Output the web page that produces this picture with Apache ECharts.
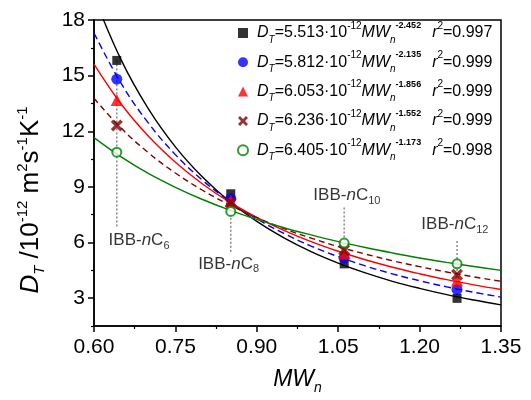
<!DOCTYPE html>
<html>
<head>
<meta charset="utf-8">
<script src="https://cdn.jsdelivr.net/npm/echarts@6/dist/echarts.min.js"></script>
<style>
  html, body { margin: 0; padding: 0; background: #fff; }
  #chart { width: 531px; height: 400px; }
</style>
</head>
<body>
<div id="chart"></div>
<script>
// Thermodiffusion coefficient vs. number-average molar mass
const FONT = '"Liberation Sans", Arial, sans-serif';

// measured points: x positions of the four mixtures
const mwn = [0.642, 0.852, 1.061, 1.269];
const dtBlack = [15.82, 8.63, 4.85, 2.99];
const dtBlue  = [14.81, 8.37, 5.17, 3.47];
const dtRed   = [13.69, 8.26, 5.44, 3.95];
const dtBrown = [12.31, 8.15, 5.60, 4.27];
const dtGreen = [10.87, 7.68, 5.97, 4.85];

// power-law fit curves sampled along MWn
const fitX = [0.60, 0.65, 0.70, 0.75, 0.80, 0.85, 0.90, 0.95, 1.00, 1.05, 1.10, 1.15, 1.20, 1.25, 1.30, 1.35];
const fitBlack = [19.29, 15.85, 13.22, 11.16, 9.53, 8.21, 7.14, 6.25, 5.51, 4.89, 4.36, 3.91, 3.53, 3.19, 2.90, 2.64];
const fitBlue  = [17.30, 14.58, 12.45, 10.74, 9.36, 8.22, 7.28, 6.49, 5.81, 5.24, 4.74, 4.31, 3.94, 3.61, 3.32, 3.06];
const fitRed   = [15.62, 13.47, 11.74, 10.33, 9.16, 8.18, 7.36, 6.66, 6.05, 5.53, 5.07, 4.67, 4.32, 4.00, 3.72, 3.47];
const fitBrown = [13.78, 12.17, 10.85, 9.75, 8.82, 8.03, 7.34, 6.75, 6.24, 5.78, 5.38, 5.02, 4.70, 4.41, 4.15, 3.91];
const fitGreen = [11.66, 10.62, 9.73, 8.98, 8.32, 7.75, 7.25, 6.80, 6.41, 6.05, 5.73, 5.44, 5.17, 4.93, 4.71, 4.50];

// fit parameters shown in the legend
const fitPrefactor = ['5.513', '5.812', '6.053', '6.236', '6.405'];
const fitExponent  = ['-2.452', '-2.135', '-1.856', '-1.552', '-1.173'];
const fitR2        = ['0.997', '0.999', '0.999', '0.999', '0.998'];

// mixture annotations
const mixNames    = ['6', '8', '10', '12'];
const leaderTop    = [15.82, 8.63, 7.89, 6.08];
const leaderBottom = [6.82, 5.49, 4.85, 2.99];
const labelX = [0.683, 0.848, 1.066, 1.265];
const labelY = [6.13, 4.85, 8.53, 6.98];

// axis ticks
const xTicks = { min: 0.60, max: 1.35, step: 0.15 };
const yMajor = [3, 6, 9, 12, 15, 18];
const yMinor = [1.5, 4.5, 7.5, 10.5, 13.5, 16.5];

const colors = ['#000000', '#0000ff', '#ff0000', '#800000', '#008000'];
const setNames = ['a', 'b', 'c', 'd', 'e'];
const pointSets = [dtBlack, dtBlue, dtRed, dtBrown, dtGreen];
const fitSets = [fitBlack, fitBlue, fitRed, fitBrown, fitGreen];
const crossPath = 'path://M2,0L5,3L8,0L10,2L7,5L10,8L8,10L5,7L2,10L0,8L3,5L0,2Z';
const symbols = [
  { symbol: 'rect', size: 9 },
  { symbol: 'circle', size: 11 },
  { symbol: 'triangle', size: 12 },
  { symbol: crossPath, size: 12 },
  { symbol: 'emptyCircle', size: 9 }
];
const fitDash = ['solid', [7, 4], 'solid', [6, 4], 'solid'];

const legendText = {};
setNames.forEach(function (n, i) {
  legendText[n] = '{gap0|}{it|D}{sub|T}{n|=' + fitPrefactor[i] + '·10}{sup|-12}{it|MW}{sub|n}{sup2|' +
    fitExponent[i] + '}{gap|}{it|r}{sup|2}{n|=' + fitR2[i] + '}';
});

const series = [];

// dotted leaders from the points to the mixture labels
mwn.forEach(function (x, i) {
  series.push({
    type: 'line', silent: true, symbol: 'none', z: 1,
    data: [[x, leaderTop[i]], [x, leaderBottom[i]]],
    lineStyle: { color: '#8a8a8a', width: 1.5, type: [2, 2] }
  });
});

// fit curves
fitSets.forEach(function (vals, i) {
  series.push({
    name: 'fit-' + setNames[i], type: 'line', smooth: 0.4, symbol: 'none', z: 2,
    data: fitX.map(function (x, k) { return [x, vals[k]]; }),
    lineStyle: { color: colors[i], width: 1.4, type: fitDash[i] }
  });
});

// measured points
pointSets.forEach(function (vals, i) {
  series.push({
    name: setNames[i], type: 'scatter', z: 5,
    symbol: symbols[i].symbol, symbolSize: symbols[i].size,
    data: mwn.map(function (x, k) { return [x, vals[k]]; }),
    itemStyle: i === 4
      ? { color: colors[i], borderColor: colors[i], borderWidth: 2.5 }
      : { color: colors[i] }
  });
});

// mixture labels
series.push({
  type: 'scatter', silent: true, symbolSize: 0, z: 6,
  data: mixNames.map(function (c, i) {
    return { value: [labelX[i], labelY[i]], label: { formatter: '{n|IBB-}{it|n}{n|C}{sub|' + c + '}' } };
  }),
  label: {
    show: true, position: 'inside', color: '#000',
    rich: {
      n: { fontFamily: FONT, fontSize: 17, lineHeight: 22, color: '#000' },
      it: { fontFamily: FONT, fontSize: 17, fontStyle: 'italic', lineHeight: 22, color: '#000' },
      sub: { fontFamily: FONT, fontSize: 11, lineHeight: 12, verticalAlign: 'bottom', color: '#000' }
    }
  }
});

const option = {
  backgroundColor: '#fff',
  animation: false,
  grid: { left: 94, top: 20, width: 407, height: 310, show: true, borderColor: '#000', borderWidth: 1.5, backgroundColor: 'transparent' },
  legend: {
    orient: 'vertical', left: 232, top: 16,
    itemWidth: 10, itemHeight: 10, itemGap: 5.3,
    symbolKeepAspect: true,
    data: setNames,
    selectedMode: false,
    formatter: function (name) { return legendText[name]; },
    textStyle: {
      color: '#000', fontFamily: FONT,
      rich: {
        n: { fontFamily: FONT, fontSize: 16, lineHeight: 24, color: '#000' },
        it: { fontFamily: FONT, fontSize: 16, fontStyle: 'italic', lineHeight: 24, color: '#000' },
        sub: { fontFamily: FONT, fontSize: 10, fontStyle: 'italic', lineHeight: 12, verticalAlign: 'bottom', color: '#000' },
        sup: { fontFamily: FONT, fontSize: 10, lineHeight: 12, verticalAlign: 'top', color: '#000' },
        sup2: { fontFamily: FONT, fontSize: 9, fontWeight: 'bold', lineHeight: 12, verticalAlign: 'top', color: '#000' },
        gap0: { width: 4, lineHeight: 24 },
        gap: { width: 11, lineHeight: 24 }
      }
    }
  },
  xAxis: {
    type: 'value', min: xTicks.min, max: xTicks.max, interval: xTicks.step,
    axisLine: { show: true, onZero: false, lineStyle: { color: '#000', width: 1.5 } },
    axisTick: { show: true, length: 6, lineStyle: { color: '#000', width: 1.5 } },
    minorTick: { show: true, splitNumber: 2, length: 3, lineStyle: { color: '#000', width: 1.2 } },
    axisLabel: { color: '#000', fontSize: 21, fontFamily: FONT, margin: 11, formatter: function (v) { return v.toFixed(2); } },
    splitLine: { show: false },
    name: '{it|MW}{sub|n}', nameLocation: 'middle', nameGap: 39,
    nameTextStyle: {
      rich: {
        it: { fontFamily: FONT, fontSize: 23, fontStyle: 'italic', lineHeight: 30, color: '#000' },
        sub: { fontFamily: FONT, fontSize: 14, fontStyle: 'italic', lineHeight: 14, verticalAlign: 'bottom', color: '#000' }
      }
    }
  },
  yAxis: [
    {
      type: 'value', min: 1.5, max: 18, interval: 1.5, position: 'left',
      axisLine: { show: true, onZero: false, lineStyle: { color: '#000', width: 1.5 } },
      axisTick: { show: true, length: 6, customValues: yMajor, lineStyle: { color: '#000', width: 1.5 } },
      axisLabel: { color: '#000', fontSize: 21, fontFamily: FONT, margin: 9, customValues: yMajor },
      splitLine: { show: false },
      name: '{it|D}{sub|T}{n| /10}{sup|-12}{n| m}{sup|2}{n|s}{sup|-1}{n|K}{sup|-1}',
      nameLocation: 'middle', nameGap: 47,
      nameTextStyle: {
        padding: [0, 54, 0, 0],
        rich: {
          n: { fontFamily: FONT, fontSize: 26, lineHeight: 32, color: '#000' },
          it: { fontFamily: FONT, fontSize: 26, fontStyle: 'italic', lineHeight: 32, color: '#000' },
          sub: { fontFamily: FONT, fontSize: 15, fontStyle: 'italic', lineHeight: 16, verticalAlign: 'bottom', color: '#000' },
          sup: { fontFamily: FONT, fontSize: 15, lineHeight: 16, verticalAlign: 'top', color: '#000' }
        }
      }
    },
    {
      type: 'value', min: 1.5, max: 18, interval: 1.5, position: 'left',
      axisLine: { show: false },
      axisTick: { show: true, length: 3, customValues: yMinor, lineStyle: { color: '#000', width: 1.2 } },
      axisLabel: { show: false },
      splitLine: { show: false }
    }
  ],
  series: series
};

const chart = echarts.init(document.getElementById('chart'), null, { renderer: 'canvas' });
chart.setOption(option);
</script>
</body>
</html>
